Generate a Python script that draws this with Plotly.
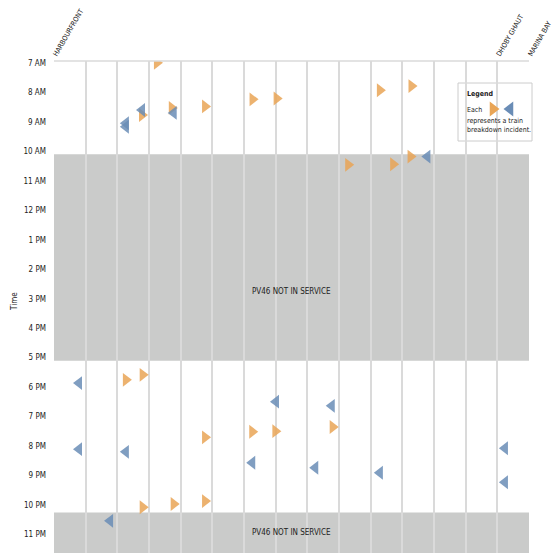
import plotly.graph_objects as go

# Stations (16 positions along the line); only ends labelled
station_labels = ["HARBOURFRONT"] + [""] * 13 + ["DHOBY GHAUT", "MARINA BAY"]
station_pos = list(range(16))

# Time ticks (hours)
time_ticks = list(range(7, 24))
time_labels = ["7 AM", "8 AM", "9 AM", "10 AM", "11 AM", "12 PM", "1 PM", "2 PM",
               "3 PM", "4 PM", "5 PM", "6 PM", "7 PM", "8 PM", "9 PM", "10 PM", "11 PM"]

# Orange (right-pointing) incidents: position along line, hour of day
orange_x = [3.25, 2.78, 3.72, 4.77, 6.27, 7.03, 10.29, 11.29, 9.29, 10.71, 11.26,
            2.27, 2.80, 6.26, 6.99, 4.77, 2.80, 3.78, 4.77, 8.80]
orange_y = [6.90, 8.67, 8.43, 8.38, 8.14, 8.11, 7.83, 7.69, 10.36, 10.34, 10.08,
            17.65, 17.48, 19.41, 19.39, 19.60, 21.97, 21.86, 21.76, 19.25]

# Blue (left-pointing) incidents
blue_x = [2.78, 2.27, 2.27, 3.78, 11.79, 0.79, 7.01, 0.79, 2.27, 6.26, 1.77,
          8.77, 8.25, 10.29, 14.24, 14.24]
blue_y = [8.50, 8.95, 9.07, 8.60, 10.08, 17.76, 18.39, 20.00, 20.09, 20.46, 22.43,
          18.53, 20.63, 20.80, 19.97, 21.12]

# Out-of-service periods (hours)
outage_start = [10.0, 22.15]
outage_end = [17.0, 23.6]
outage_label_y = [14.67, 22.84]
outage_text = "PV46 NOT IN SERVICE"

ORANGE = "#E9A556"
BLUE = "#6A8DB6"
FONT = "Liberation Sans Narrow, DejaVu Sans Condensed, Arial Narrow, sans-serif"

L, R, T, B = 54, 529, 61, 553  # plot-area pixel edges as seen on screen
OFF = 8  # page body margin offset


def px(xp):
    return (xp - L) / (R - L)


def py(yp):
    return (B - yp) / (B - T)


fig = go.Figure()

fig.add_trace(go.Scatter(
    x=orange_x, y=orange_y, mode="markers",
    marker=dict(symbol="triangle-right", size=12, color=ORANGE, opacity=0.85,
                line=dict(width=0)),
    hoverinfo="skip", showlegend=False))
fig.add_trace(go.Scatter(
    x=blue_x, y=blue_y, mode="markers",
    marker=dict(symbol="triangle-left", size=12, color=BLUE, opacity=0.85,
                line=dict(width=0)),
    hoverinfo="skip", showlegend=False))

# Legend key triangles on an overlay axis in pixel units
fig.add_trace(go.Scatter(
    x=[493, 510], y=[109, 109], mode="markers", xaxis="x2", yaxis="y2",
    marker=dict(symbol=["triangle-right", "triangle-left"], size=13,
                color=[ORANGE, BLUE], line=dict(width=0)),
    hoverinfo="skip", showlegend=False))

for s, e, ly in zip(outage_start, outage_end, outage_label_y):
    fig.add_shape(type="rect", xref="x", yref="y", x0=0, x1=15, y0=s, y1=e,
                  fillcolor="#CACBCA", line=dict(width=0), layer="below")
    fig.add_annotation(x=7.5, y=ly, xref="x", yref="y", text=outage_text,
                       showarrow=False, font=dict(size=8, color="#222222", family=FONT))

# Legend box (covers gridlines, under the key markers)
fig.add_shape(type="rect", xref="paper", yref="paper",
              x0=px(458), x1=px(532), y0=py(141), y1=py(83),
              fillcolor="white", line=dict(color="#cccccc", width=1), layer="between")

legend_font = dict(size=7, color="#222", family=FONT)
fig.add_annotation(x=px(465), y=py(94), xref="paper", yref="paper", text="<b>Legend</b>",
                   showarrow=False, xanchor="left", yanchor="middle",
                   font=dict(size=7, color="#222", family=FONT))
fig.add_annotation(x=px(465), y=py(110), xref="paper", yref="paper", text="Each",
                   showarrow=False, xanchor="left", yanchor="middle", font=legend_font)
fig.add_annotation(x=px(465), y=py(126), xref="paper", yref="paper",
                   text="represents a train<br>breakdown incident.", align="left",
                   showarrow=False, xanchor="left", yanchor="middle", font=legend_font)

fig.add_annotation(x=px(14), y=py(302), xref="paper", yref="paper", text="Time",
                   textangle=-90, showarrow=False, xanchor="center", yanchor="middle",
                   font=dict(size=8, color="#222", family=FONT))

fig.update_layout(
    width=560, height=560,
    margin=dict(l=L - OFF, r=560 - R + OFF, t=T - OFF, b=560 - B + OFF),
    paper_bgcolor="white", plot_bgcolor="white",
    font=dict(family=FONT, size=8, color="#222222"),
    xaxis=dict(range=[0, 15], side="top", tickmode="array", tickvals=station_pos,
               ticktext=station_labels, tickangle=-60, showgrid=True,
               gridcolor="#dadada", gridwidth=1.5, zeroline=False, showline=False,
               ticks="", tickfont=dict(size=7), automargin=False),
    yaxis=dict(range=[23.52, 6.84], tickmode="array", tickvals=time_ticks,
               ticktext=time_labels, showgrid=False, zeroline=False, ticks="",
               tickfont=dict(size=8), automargin=False, ticklabelstandoff=7,
               ticklabelshift=3),
    xaxis2=dict(overlaying="x", range=[L, R], visible=False, automargin=False),
    yaxis2=dict(overlaying="y", range=[B, T], visible=False, automargin=False),
)
fig.add_shape(type="line", xref="paper", yref="paper", x0=0, x1=1, y0=1, y1=1,
              line=dict(color="#dadada", width=1.5))

fig.write_html("out.html")
